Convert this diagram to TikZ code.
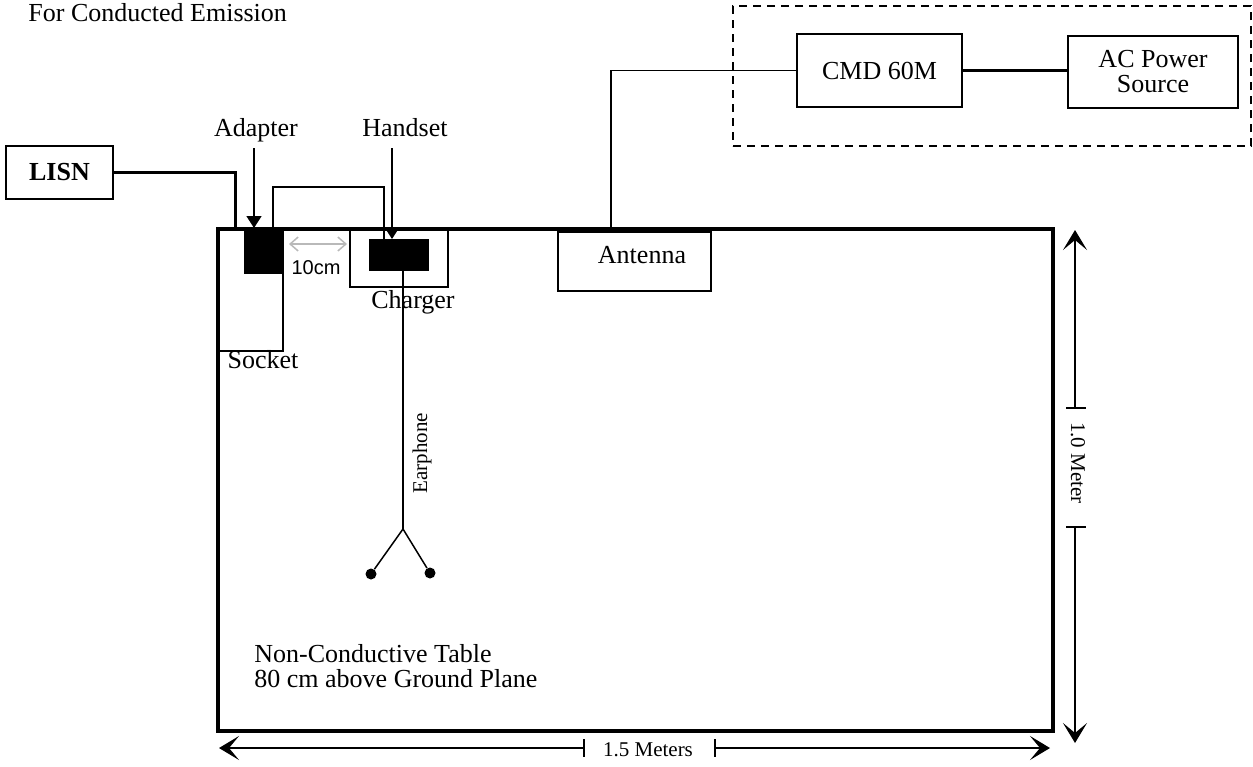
\documentclass[tikz,border=0pt]{standalone}
\usepackage{fontspec}
\setmainfont{Liberation Serif}
\newfontfamily\arialfont{Liberation Sans}
\usepackage{tikz}
\usetikzlibrary{arrows.meta, calc}

\begin{document}
\begin{tikzpicture}[x=0.5pt, y=-0.5pt,
    font=\fontsize{13}{12.5}\selectfont,
    box/.style={draw, line width=1pt, inner sep=0pt},
    solidbox/.style={draw, fill=black, line width=1pt, inner sep=0pt},
    wire/.style={line width=0.75pt},
    power/.style={line width=1.5pt},
    pointer/.style={line width=0.75pt, -{Triangle[width=7.5pt, length=6pt]}},
    gaparrow/.style={gray!55, line width=0.75pt, {Straight Barb[length=4pt, width=7pt]}-{Straight Barb[length=4pt, width=7pt]}},
    dim/.style={line width=0.75pt, -{Stealth[width=12pt, length=10pt, inset=5pt]}},
    dimtext/.style={font=\fontsize{10.5}{12}\selectfont, inner sep=0pt}]
    \useasboundingbox (0,0) rectangle (1253,766);

    % title
    \node[anchor=west, inner sep=0pt] (title) at (28,13) {For Conducted Emission};

    % table
    \node[draw, line width=1.6pt, minimum width=417.5pt, minimum height=251pt] (table) at (635.5,480) {};
    \node[anchor=base west, inner sep=0pt] (tbl1) at (254,662) {Non-Conductive Table};
    \node[anchor=base west, inner sep=0pt] (tbl2) at (254,687) {80 cm above Ground Plane};

    % LISN
    \node[box, font=\fontsize{13}{12.5}\selectfont\bfseries, minimum width=53.5pt, minimum height=26.5pt] (lisn) at (59.5,172.5) {LISN};
    \coordinate (lisnin) at (235,229);
    \draw[power] (lisn.east) -| (lisnin);

    % socket and adapter
    \node[box, minimum width=32.5pt, minimum height=61pt] (socket) at (250.5,290) {};
    \node (socketlbl) at (263,360) {Socket};
    \node[solidbox, minimum width=19pt, minimum height=22pt] (adapter) at (264,251) {};
    \node (adapterlbl) at (256,130) {Adapter};
    \coordinate (adaptertop) at (254,148);
    \draw[pointer] (adaptertop) -- (adaptertop |- adapter.north);

    % charger and handset
    \node[box, minimum width=49pt, minimum height=29pt] (charger) at (399,258) {};
    \node (chargerlbl) at (413,302) {Charger};
    \node[solidbox, minimum width=29pt, minimum height=15pt] (handset) at (399,255) {};
    \node (handsetlbl) at (405,128) {Handset};
    \coordinate (handsettop) at (392,148);
    \draw[pointer] (handsettop) -- (handsettop |- handset.north);
    \draw[wire] ([xshift=4.5pt]adapter.north) -- ++(0,-41) -| ([xshift=-7.5pt]handset.north);

    % 10cm gap
    \draw[gaparrow] ([xshift=2.5pt]adapter.east |- 0,244) -- ([xshift=-1pt]charger.west |- 0,244);
    \node[font=\arialfont\fontsize{10}{12}\selectfont] (gaplbl) at (316,268) {10cm};

    % earphone
    \coordinate (earjct) at (403,529);
    \node[circle, fill, inner sep=0pt, minimum size=5.5pt] (budl) at (371,574) {};
    \node[circle, fill, inner sep=0pt, minimum size=5.5pt] (budr) at (430,573) {};
    \draw[wire] ([xshift=2pt]handset.south) -- (earjct);
    \draw[wire] (budl) -- (earjct) -- (budr);
    \node[dimtext, rotate=90] (earlbl) at (422,453) {Earphone};

    % antenna
    \node[box, minimum width=76.5pt, minimum height=29.5pt] (antenna) at (634.5,261.5) {};
    \node (antennalbl) at (642,255) {Antenna};

    % CMD 60M and AC source
    \node[draw, dashed, line width=1pt, dash pattern=on 4pt off 3pt, minimum width=259pt, minimum height=70pt] (cabinet) at (992,76) {};
    \node[box, minimum width=82.5pt, minimum height=36.5pt] (cmd) at (879.5,70.5) {CMD 60M};
    \node[box, align=center, minimum width=85pt, minimum height=36pt] (acsrc) at (1153,72) {AC Power\\Source};
    \draw[power] (cmd.east) -- (cmd.east -| acsrc.west);
    \draw[wire] ([xshift=-11.75pt]antenna.north) |- (cmd.west);

    % 1.5 Meters
    \node[dimtext] (widthlbl) at (648,750) {1.5 Meters};
    \coordinate (wl) at (584,748);
    \coordinate (wr) at (715,748);
    \draw[dim] (wl) -- (219,748);
    \draw[dim] (wr) -- (1050,748);
    \draw[wire] ([yshift=4.5pt]wl) -- ([yshift=-4.5pt]wl);
    \draw[wire] ([yshift=4.5pt]wr) -- ([yshift=-4.5pt]wr);

    % 1.0 Meter
    \node[dimtext, rotate=-90] (heightlbl) at (1078,463) {1.0 Meter};
    \coordinate (ht) at (1075,408);
    \coordinate (hb) at (1075,527);
    \draw[dim] (ht) -- (1075,230);
    \draw[dim] (hb) -- (1075,743);
    \draw[wire] ([xshift=-4.5pt]ht) -- ([xshift=5.5pt]ht);
    \draw[wire] ([xshift=-4.5pt]hb) -- ([xshift=5.5pt]hb);
\end{tikzpicture}
\end{document}
